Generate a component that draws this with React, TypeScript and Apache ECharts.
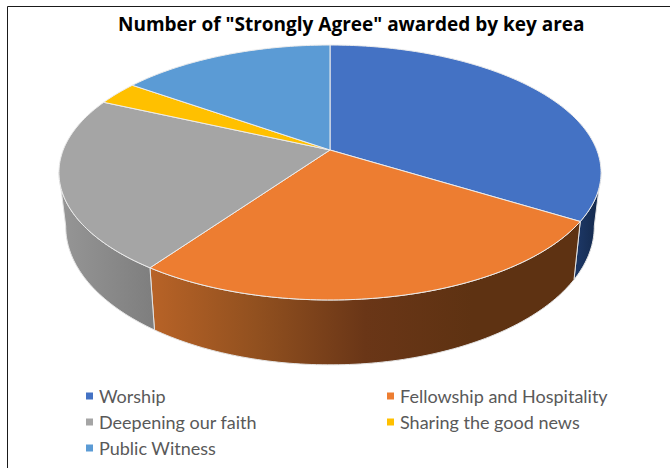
import React, { useEffect, useRef } from "react";
import * as echarts from "echarts";

const titleText = 'Number of "Strongly Agree" awarded by key area';
const categories = ["Worship", "Fellowship and Hospitality", "Deepening our faith", "Sharing the good news", "Public Witness"];
const values = [33.8, 26, 22, 3, 15.2];
const faceColors = ["#4472C4", "#ED7D31", "#A5A5A5", "#FFC000", "#5B9BD5"];
const wallStops: string[][] = [
  ["#1B3562", "#132748"],
  ["#B86327", "#91501F", "#6A3617", "#5E3212", "#5E3212"],
  ["#969696", "#7F7F7F"],
  ["#7F6000", "#7F6000"],
  ["#2E5F8F", "#2E5F8F"],
];
const legendPos = [
  [86, 387], [387, 387], [86, 413], [387, 413], [86, 439],
];

const CX = 330, CY = 150, A = 266.8, B = 123.5, K = 0.1765;
const LOWER_SX = 0.975, LOWER_SY = 1.085, TOP_CY = 172, LOW_CY = 226;
const WALL_FROM = 100, WALL_TO = 260;
const total = values.reduce((a, b) => a + b, 0);

function top(deg: number): number[] {
  const t = (deg * Math.PI) / 180;
  const w = 1 + K * Math.cos(t);
  return [CX + (A * Math.sin(t)) / w, CY - (B * Math.cos(t)) / w];
}
function low(deg: number): number[] {
  const p = top(deg);
  return [CX + (p[0] - CX) * LOWER_SX, LOW_CY + (p[1] - TOP_CY) * LOWER_SY];
}
function arc(from: number, to: number, f: (d: number) => number[]): number[][] {
  const n = Math.max(2, Math.ceil(Math.abs(to - from)));
  const out: number[][] = [];
  for (let i = 0; i <= n; i++) out.push(f(from + ((to - from) * i) / n));
  return out;
}

function makeSeries(idx: number) {
  const startValue = values.slice(0, idx).reduce((a, b) => a + b, 0);
  return {
    type: "custom",
    name: categories[idx],
    coordinateSystem: "none",
    silent: true,
    itemStyle: { color: faceColors[idx] },
    data: [[values[idx]]],
    renderItem: (_p: any, api: any) => {
      const v = api.value(0) as number;
      const a0 = (startValue / total) * 360;
      const a1 = ((startValue + v) / total) * 360;
      const children: any[] = [];
      const w0 = Math.max(a0, WALL_FROM);
      const w1 = Math.min(a1, WALL_TO);
      if (w1 > w0) {
        const stops = wallStops[idx];
        const x0 = top(w0)[0];
        const x1 = top(w1)[0];
        const pts = [...arc(w0, w1, top), ...arc(w1, w0, low)];
        children.push({
          type: "polygon",
          shape: { points: pts },
          style: {
            fill: {
              type: "linear", x: Math.min(x0, x1), y: 0, x2: Math.max(x0, x1), y2: 0, global: true,
              colorStops: stops.map((c, i) => ({ offset: i / (stops.length - 1), color: c })),
            },
            stroke: "#e4e4e4",
            lineWidth: 1,
          },
        });
      }
      children.push({
        type: "polygon",
        z2: 10,
        shape: { points: [[CX, CY], ...arc(a0, a1, top)] },
        style: { fill: faceColors[idx], stroke: "#ececec", lineWidth: 1, lineJoin: "round" },
      });
      return { type: "group", children };
    },
  };
}

export default function App() {
  const ref = useRef<HTMLDivElement>(null);
  useEffect(() => {
    const chart = echarts.init(ref.current!, undefined, { renderer: "svg" });
    chart.setOption({
      animation: false,
      backgroundColor: "#ffffff",
      title: {
        text: titleText,
        left: 118,
        top: 14,
        padding: 0,
        textStyle: { fontFamily: "Open Sans", fontWeight: "bold", fontSize: 19, color: "#000000" },
      },
      legend: categories.map((c, i) => ({
        data: [c],
        left: legendPos[i][0],
        top: legendPos[i][1],
        padding: 0,
        icon: "rect",
        itemWidth: 7,
        itemHeight: 7,
        itemGap: 7,
        selectedMode: false,
        textStyle: { fontFamily: "Lato", fontSize: 18, color: "#595959", padding: [0, 0, 2, 1] },
      })),
      series: categories.map((_, i) => makeSeries(i)),
      graphic: [
        { type: "line", shape: { x1: 7.5, y1: 6.5, x2: 7.5, y2: 468 }, style: { stroke: "#1a1a1a", lineWidth: 1 } },
        { type: "line", shape: { x1: 7.5, y1: 6.5, x2: 670, y2: 6.5 }, style: { stroke: "#1a1a1a", lineWidth: 1 } },
      ],
    });
    return () => chart.dispose();
  }, []);
  return <div ref={ref} style={{ position: "absolute", left: 0, top: 0, width: 670, height: 468 }} />;
}
